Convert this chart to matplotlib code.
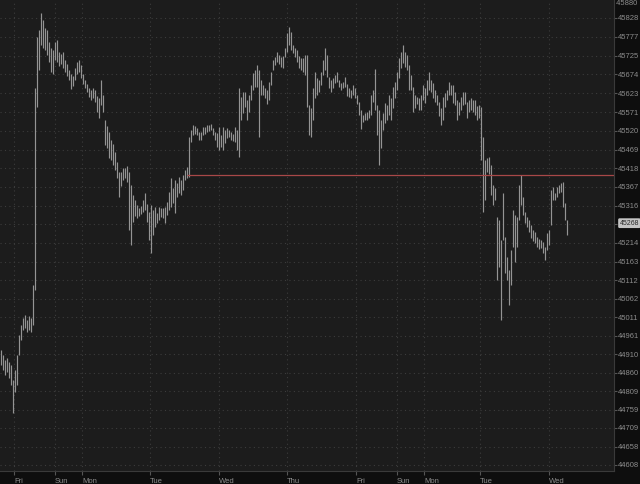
import numpy as np
import matplotlib
matplotlib.use("Agg")
import matplotlib.pyplot as plt

# bar highs / lows (one bar per slot, left to right)
highs = [44922, 44908, 44895, 44900, 44889, 44881, 44840, 44867, 44908, 44963,
         44990, 45009, 45017, 45004, 45015, 45009, 45099, 45637, 45776, 45795,
         45842, 45822, 45801, 45795, 45762, 45746, 45740, 45762, 45768, 45735,
         45730, 45735, 45713, 45702, 45686, 45675, 45670, 45691, 45708, 45713,
         45700, 45675, 45659, 45648, 45637, 45631, 45637, 45631, 45615, 45609,
         45659, 45618, 45549, 45533, 45517, 45495, 45484, 45462, 45435, 45408,
         45408, 45419, 45419, 45424, 45408, 45372, 45345, 45331, 45318, 45310,
         45315, 45331, 45350, 45320, 45299, 45318, 45304, 45312, 45296, 45312,
         45310, 45310, 45312, 45326, 45353, 45391, 45364, 45386, 45378, 45394,
         45386, 45399, 45413, 45421, 45503, 45522, 45536, 45533, 45528, 45517,
         45517, 45530, 45530, 45536, 45536, 45538, 45528, 45517, 45514, 45530,
         45509, 45530, 45522, 45528, 45522, 45517, 45511, 45530, 45522, 45637,
         45612, 45626, 45626, 45604, 45618, 45645, 45678, 45686, 45700, 45686,
         45659, 45645, 45637, 45631, 45653, 45680, 45713, 45721, 45735, 45727,
         45721, 45724, 45746, 45787, 45803, 45790, 45754, 45746, 45740, 45724,
         45719, 45719, 45727, 45727, 45590, 45582, 45637, 45680, 45664, 45659,
         45680, 45713, 45746, 45727, 45667, 45659, 45664, 45672, 45680, 45659,
         45650, 45653, 45667, 45648, 45637, 45631, 45645, 45637, 45618, 45599,
         45577, 45563, 45568, 45571, 45577, 45618, 45631, 45689, 45590, 45577,
         45549, 45568, 45596, 45590, 45618, 45609, 45640, 45653, 45680, 45719,
         45735, 45754, 45735, 45727, 45700, 45672, 45640, 45618, 45612, 45609,
         45618, 45645, 45637, 45659, 45680, 45659, 45650, 45631, 45618, 45599,
         45582, 45612, 45623, 45631, 45653, 45645, 45645, 45626, 45604, 45599,
         45612, 45626, 45626, 45599, 45604, 45609, 45604, 45604, 45588, 45590,
         45585, 45503, 45440, 45446, 45449, 45427, 45372, 45364, 45285, 45277,
         45222, 45350, 45230, 45176, 45140, 45195, 45304, 45290, 45285, 45372,
         45399, 45339, 45299, 45285, 45277, 45263, 45249, 45244, 45230, 45225,
         45222, 45217, 45203, 45241, 45249, 45358, 45367, 45350, 45367, 45372,
         45378, 45380, 45323, 45277]
lows = [44881, 44867, 44854, 44862, 44846, 44827, 44750, 44808, 44827, 44908,
        44949, 44976, 44982, 44971, 44976, 44971, 44990, 45086, 45585, 45686,
        45754, 45746, 45740, 45727, 45708, 45680, 45675, 45713, 45708, 45697,
        45702, 45691, 45680, 45670, 45659, 45634, 45642, 45659, 45675, 45680,
        45664, 45648, 45637, 45626, 45612, 45604, 45609, 45599, 45571, 45555,
        45590, 45571, 45481, 45473, 45446, 45440, 45427, 45413, 45391, 45339,
        45369, 45386, 45391, 45380, 45249, 45208, 45271, 45288, 45282, 45288,
        45293, 45299, 45304, 45271, 45222, 45187, 45236, 45258, 45269, 45277,
        45285, 45282, 45269, 45290, 45304, 45312, 45323, 45296, 45339, 45350,
        45345, 45358, 45386, 45391, 45394, 45490, 45509, 45511, 45509, 45495,
        45495, 45509, 45511, 45517, 45519, 45522, 45509, 45495, 45476, 45468,
        45476, 45468, 45487, 45500, 45503, 45495, 45492, 45489, 45468, 45449,
        45549, 45568, 45585, 45549, 45571, 45604, 45631, 45640, 45640, 45503,
        45618, 45618, 45609, 45593, 45604, 45645, 45686, 45700, 45708, 45702,
        45694, 45691, 45721, 45735, 45754, 45740, 45732, 45721, 45708, 45691,
        45686, 45680, 45672, 45585, 45509, 45503, 45549, 45609, 45618, 45626,
        45645, 45672, 45686, 45667, 45637, 45626, 45637, 45650, 45653, 45640,
        45631, 45637, 45640, 45615, 45612, 45609, 45618, 45609, 45593, 45563,
        45525, 45544, 45549, 45549, 45555, 45563, 45599, 45577, 45509, 45427,
        45473, 45522, 45541, 45549, 45563, 45549, 45582, 45609, 45631, 45664,
        45691, 45705, 45694, 45686, 45631, 45631, 45571, 45582, 45593, 45577,
        45577, 45604, 45596, 45618, 45631, 45626, 45609, 45599, 45590, 45560,
        45536, 45549, 45585, 45604, 45618, 45618, 45596, 45590, 45549, 45563,
        45577, 45590, 45593, 45555, 45571, 45577, 45571, 45563, 45549, 45555,
        45440, 45299, 45331, 45408, 45402, 45345, 45318, 45331, 45113, 45149,
        45004, 45222, 45132, 45113, 45045, 45099, 45203, 45162, 45203, 45277,
        45318, 45290, 45269, 45258, 45244, 45228, 45219, 45214, 45203, 45198,
        45200, 45187, 45167, 45195, 45208, 45263, 45331, 45331, 45339, 45350,
        45353, 45312, 45277, 45236]

last_price = 45268
ref_level = 45400
ref_start = 93  # bar index where the horizontal level starts

day_labels = ["Fri", "Sun", "Mon", "Tue", "Wed", "Thu", "Fri", "Sun", "Mon", "Tue", "Wed"]
day_pos = [6.5, 27, 40.5, 74.5, 109, 143, 177.5, 198, 211.5, 239.5, 274]

price_ticks = [44608, 44658, 44709, 44759, 44809, 44860, 44910, 44961, 45011, 45062,
               45112, 45163, 45214, 45265, 45316, 45367, 45418, 45469, 45520, 45571,
               45623, 45674, 45725, 45777, 45828]
top_tick = 45880  # sits right at the top edge

bg = "#1c1c1c"
panel = "#0e0e0e"
txt = "#8c8c8c"
font = ["Liberation Sans Narrow", "Liberation Sans", "DejaVu Sans"]

fig = plt.figure(figsize=(6.4, 4.84), dpi=100, facecolor=panel)
ax = fig.add_axes([0, 13 / 484, 614 / 640, 471 / 484])
ax.set_facecolor(bg)

x = np.arange(len(highs))
ax.vlines(x, lows, highs, color="#949494", linewidth=0.85)

# reference level line
ax.hlines(ref_level, ref_start, 310, color="#a84848", linewidth=0.9)

ax.set_xlim(-0.5, 306.5)
ax.set_ylim(44591.6, 45877.1)

# the tick under the last-price tag has its label hidden by the tag
ax.set_yticks(price_ticks)
ax.set_yticklabels(["" if p == 45265 else str(p) for p in price_ticks],
                   fontsize=5.5, color=txt, family=font)
ax.yaxis.tick_right()
ax.tick_params(axis="y", length=2, color="#555555", pad=1)
ax.text(1.0, 1.0, " " + str(top_tick), transform=ax.transAxes,
        fontsize=5.5, color=txt, family=font, va="top", ha="left", clip_on=False)

ax.set_xticks(day_pos)
ax.set_xticklabels(day_labels, fontsize=5.5, color=txt, family=font, ha="left")
ax.tick_params(axis="x", length=3, color="#555555", pad=2)

ax.grid(True, color="#3c3c3c", linestyle=(0, (1, 3)), linewidth=0.8)
for s in ["top", "left"]:
    ax.spines[s].set_visible(False)
ax.spines["right"].set_color("#3a3a3a")
ax.spines["bottom"].set_color("#3a3a3a")

# last price tag on the axis
ax.annotate(str(last_price), xy=(1.0, last_price), xycoords=("axes fraction", "data"),
            xytext=(4, 0), textcoords="offset points", va="center", ha="left",
            fontsize=5, color="#2a2a2a", family=font, annotation_clip=False,
            bbox=dict(boxstyle="round,pad=0.2", fc="#c4c4c4", ec="none"))

fig.savefig("out.png", dpi=100, facecolor=fig.get_facecolor())
